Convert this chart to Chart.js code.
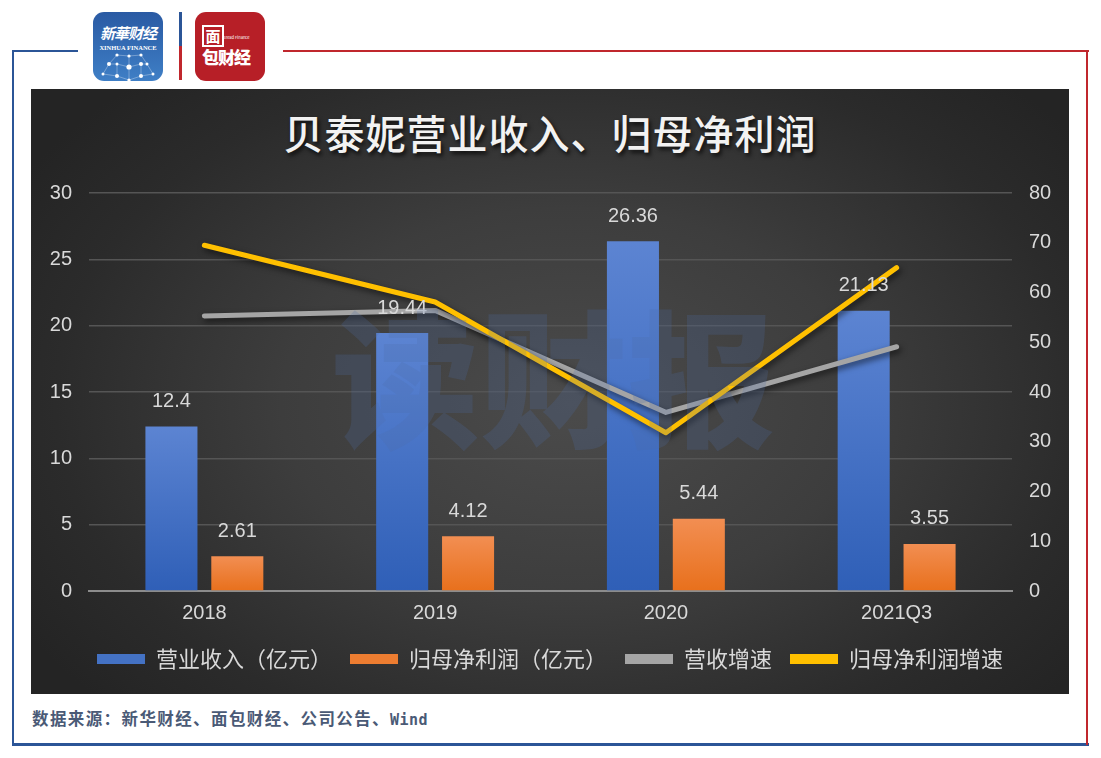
<!DOCTYPE html>
<html><head><meta charset="utf-8">
<script src="https://cdn.jsdelivr.net/npm/chart.js@4.4.0/dist/chart.umd.min.js"></script>
<style>
body{margin:0;background:#fff;width:1101px;height:758px;position:relative;overflow:hidden;font-family:"Noto Sans CJK SC",sans-serif;}
.ln{position:absolute;}
#panel{position:absolute;left:31px;top:89px;width:1038px;height:605px;
 background:radial-gradient(ellipse 62% 72% at 52% 52%, #4b4b4b 0%, #3d3d3d 45%, #2b2b2b 80%, #242424 100%);}
#title{position:absolute;left:31px;top:105px;width:1038px;text-align:center;color:#f2f2f2;font-size:40px;font-weight:500;line-height:54px;letter-spacing:1px;text-shadow:2px 3px 4px rgba(0,0,0,0.75);}
#wrap{position:absolute;left:31px;top:89px;width:1038px;height:605px;}
#src{position:absolute;left:32px;top:706px;font-size:16.5px;font-weight:700;color:#4a5a76;letter-spacing:1.4px;white-space:nowrap;}
#src span{font-family:"DejaVu Sans Mono",monospace;font-size:15px;letter-spacing:0.5px;}
.logo{position:absolute;top:12px;width:70px;height:69px;border-radius:11px;overflow:hidden;color:#fff;text-align:center;}
#lg1{left:93px;background:linear-gradient(180deg,#2a5aa3 0%,#3670b8 60%,#3f7fc6 100%);}
#lg2{left:195px;background:#b71f27;}
</style></head>
<body>
<!-- frame -->
<div class="ln" style="left:12px;top:50px;width:66px;height:2px;background:#2b5597"></div>
<div class="ln" style="left:12px;top:50px;width:2px;height:695px;background:#2b5597"></div>
<div class="ln" style="left:12px;top:743px;width:1077px;height:3px;background:#2b5597"></div>
<div class="ln" style="left:283px;top:50px;width:806px;height:2px;background:#c0272d"></div>
<div class="ln" style="left:1086px;top:50px;width:2px;height:695px;background:#c0272d"></div>
<div class="ln" style="left:179px;top:12px;width:3px;height:34px;background:#2b5597"></div>
<div class="ln" style="left:179px;top:46px;width:3px;height:34px;background:#c0272d"></div>

<div class="logo" id="lg1">
 <div style="margin-top:10px;font-size:15px;font-weight:700;font-style:italic;letter-spacing:-1px;">新華财经</div>
 <div style="font-size:6.5px;font-family:'Liberation Serif',serif;font-weight:700;margin-top:1px;">XINHUA FINANCE</div>
 <svg width="70" height="30" style="position:absolute;left:0;top:40px">
  <g stroke="rgba(255,255,255,0.45)" stroke-width="0.7" fill="none">
   <path d="M24 3 L16 12 L10 22 M24 3 L36 4 L48 3 M36 4 L36 15 L24 12 L16 12 M48 3 L54 12 L60 22 M36 15 L48 12 L54 12 M24 12 L24 24 M48 12 L48 24 M36 15 L36 28 M10 22 L24 24 L36 28 L48 24 L60 22"/>
  </g>
  <g fill="#fff">
   <circle cx="24" cy="3" r="1.6"/><circle cx="36" cy="4" r="1.6"/><circle cx="48" cy="3" r="1.6"/>
   <circle cx="16" cy="12" r="2"/><circle cx="24" cy="12" r="1.5"/><circle cx="36" cy="15" r="2.6"/><circle cx="48" cy="12" r="2"/><circle cx="54" cy="12" r="1.5"/>
   <circle cx="10" cy="22" r="1.5"/><circle cx="24" cy="24" r="2"/><circle cx="36" cy="28" r="1.6"/><circle cx="48" cy="24" r="2"/><circle cx="60" cy="22" r="1.5"/>
  </g>
 </svg>
</div>
<div class="logo" id="lg2">
 <div style="position:absolute;left:7px;top:13px;width:18px;height:18px;border:2.5px solid #fff;font-size:15px;line-height:18px;font-weight:700;">面</div>
 <div style="position:absolute;left:28px;top:22px;font-size:4px;letter-spacing:0;">Bread Finance</div>
 <div style="position:absolute;left:7px;top:35px;font-size:17px;font-weight:900;line-height:20px;letter-spacing:-1px;">包财经</div>
</div>

<div id="panel"></div>
<div id="title">贝泰妮营业收入、归母净利润</div>
<div id="wrap"><canvas id="c"></canvas></div>
<div id="src">数据来源：新华财经、面包财经、公司公告、<span>Wind</span></div>

<script>
const categories = ['2018', '2019', '2020', '2021Q3'];
const revenue = [12.4, 19.44, 26.36, 21.13];
const netProfit = [2.61, 4.12, 5.44, 3.55];
const revenueGrowth = [55.3, 56.4, 35.9, 49.1];
const profitGrowth = [69.5, 58.1, 31.8, 65.0];
const seriesNames = ['营业收入（亿元）', '归母净利润（亿元）', '营收增速', '归母净利润增速'];
const leftAxis = {min: 0, max: 30, step: 5};
const rightAxis = {min: 0, max: 80, step: 10};
const watermarkText = '读财报';

const TXT = '#d9d9d9';
const NUMFONT = '"Liberation Sans", Arial, sans-serif';
const CJK = '"Noto Sans CJK SC", sans-serif';

function barGrad(top, bottom) {
  return (ctx) => {
    const chart = ctx.chart;
    if (!chart.chartArea || ctx.type !== 'data') return bottom;
    const ys = chart.scales.y;
    const yTop = ys.getPixelForValue(ctx.raw);
    const yBot = ys.getPixelForValue(0);
    if (!isFinite(yTop) || !isFinite(yBot) || yTop === yBot) return bottom;
    const g = chart.ctx.createLinearGradient(0, yTop, 0, yBot);
    g.addColorStop(0, top);
    g.addColorStop(1, bottom);
    return g;
  };
}

const barLabels = {
  id: 'barLabels',
  afterDatasetsDraw(chart) {
    const ctx = chart.ctx;
    ctx.save();
    ctx.font = '20px ' + NUMFONT;
    ctx.fillStyle = TXT;
    ctx.textAlign = 'center';
    ctx.textBaseline = 'middle';
    chart.data.datasets.forEach((ds, i) => {
      if (ds.type !== 'bar') return;
      chart.getDatasetMeta(i).data.forEach((el, j) => {
        ctx.fillText(String(ds.data[j]), el.x, el.y - 25);
      });
    });
    ctx.restore();
  }
};

const lineShadow = {
  id: 'lineShadow',
  beforeDatasetDraw(chart, args) {
    if (args.meta.type === 'line') {
      const c = chart.ctx;
      c.save();
      c.shadowColor = 'rgba(0,0,0,0.6)';
      c.shadowBlur = 6;
      c.shadowOffsetX = 2;
      c.shadowOffsetY = 3;
    }
  },
  afterDatasetDraw(chart, args) {
    if (args.meta.type === 'line') chart.ctx.restore();
  }
};

const watermark = {
  id: 'watermark',
  afterDraw(chart) {
    const a = chart.chartArea;
    const c = chart.ctx;
    c.save();
    c.font = '900 148px "Noto Sans CJK SC", sans-serif';
    c.fillStyle = 'rgba(78,108,168,0.22)';
    c.textAlign = 'center';
    c.textBaseline = 'middle';
    c.fillText(watermarkText, (a.left + a.right) / 2 + 3, (a.top + a.bottom) / 2 - 12);
    c.restore();
  }
};

new Chart(document.getElementById('c'), {
  data: {
    labels: categories,
    datasets: [
      {type: 'bar', label: seriesNames[0], data: revenue, yAxisID: 'y', order: 2,
       backgroundColor: barGrad('#5c84d2', '#2f5fb7'), legendColor: '#4472c4',
       categoryPercentage: 0.571, barPercentage: 0.79},
      {type: 'bar', label: seriesNames[1], data: netProfit, yAxisID: 'y', order: 2,
       backgroundColor: barGrad('#f28e52', '#e8701c'), legendColor: '#ed7d31',
       categoryPercentage: 0.571, barPercentage: 0.79},
      {type: 'line', label: seriesNames[2], data: revenueGrowth, yAxisID: 'y1', order: 1,
       borderColor: '#a5a5a5', backgroundColor: '#a5a5a5', borderWidth: 5,
       borderCapStyle: 'round', borderJoinStyle: 'round', pointRadius: 0, pointHoverRadius: 0, tension: 0},
      {type: 'line', label: seriesNames[3], data: profitGrowth, yAxisID: 'y1', order: 0,
       borderColor: '#ffc000', backgroundColor: '#ffc000', borderWidth: 5,
       borderCapStyle: 'round', borderJoinStyle: 'round', pointRadius: 0, pointHoverRadius: 0, tension: 0}
    ]
  },
  options: {
    responsive: true,
    maintainAspectRatio: false,
    animation: false,
    events: [],
    layout: {padding: {top: 104, bottom: 14, left: 0, right: 0}},
    scales: {
      x: {
        grid: {display: false, drawTicks: false},
        border: {display: true, color: '#8c8c8c', width: 2},
        ticks: {color: TXT, font: {family: NUMFONT, size: 20}, padding: 10},
        afterFit(s) { s.height -= 5; }
      },
      y: {
        position: 'left', min: leftAxis.min, max: leftAxis.max,
        ticks: {stepSize: leftAxis.step, color: TXT, font: {family: NUMFONT, size: 20}, padding: 17},
        grid: {color: '#555555', lineWidth: 1.5, drawTicks: false},
        border: {display: false},
        afterFit(s) { s.width = 58; }
      },
      y1: {
        position: 'right', min: rightAxis.min, max: rightAxis.max,
        ticks: {stepSize: rightAxis.step, color: TXT, font: {family: NUMFONT, size: 20}, padding: 17},
        grid: {display: false, drawTicks: false},
        border: {display: false},
        afterFit(s) { s.width = 57; }
      }
    },
    plugins: {
      tooltip: {enabled: false},
      legend: {
        position: 'bottom',
        labels: {
          color: TXT, font: {family: CJK, size: 22}, boxWidth: 48, boxHeight: 10, padding: 18,
          sort: (a, b) => a.datasetIndex - b.datasetIndex,
          generateLabels(chart) {
            return chart.data.datasets.map((ds, i) => ({
              text: ds.label,
              fillStyle: ds.legendColor || ds.borderColor,
              strokeStyle: ds.legendColor || ds.borderColor,
              lineWidth: 0,
              fontColor: TXT,
              hidden: false,
              datasetIndex: i
            }));
          }
        }
      }
    }
  },
  plugins: [lineShadow, barLabels, watermark]
});
</script>
</body></html>
